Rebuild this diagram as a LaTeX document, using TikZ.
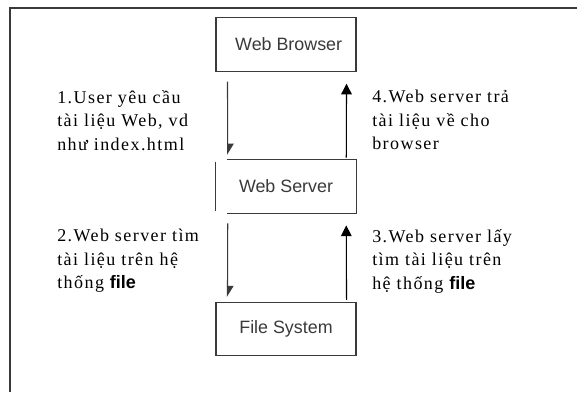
\documentclass[tikz,border=0pt]{standalone}
\usepackage{fontspec}
\setmainfont{Liberation Serif}
\newfontfamily\stepfont[LetterSpace=8]{Liberation Serif}
\newfontfamily\boxfont{Liberation Sans}
\usepackage{tikz}
\usetikzlibrary{arrows.meta}
\definecolor{edge}{HTML}{3A3A3A}
\tikzset{box/.style={minimum width=105pt,minimum height=40pt,inner sep=0pt,
    font=\boxfont\fontsize{13.4pt}{15pt}\selectfont,text=edge}}
\tikzset{txt/.style={anchor=north west,inner sep=0pt,align=left,
    font=\stepfont\fontsize{13.5pt}{17.6pt}\selectfont}}
\tikzset{dn/.style={draw=edge,line width=0.8pt,-{Triangle[left,width=9pt,length=7.5pt]}}}
\tikzset{up/.style={draw=black,line width=0.8pt,-{Triangle[width=8pt,length=8pt]}}}
\newcommand{\fb}{{\boxfont\bfseries file}}

\begin{document}
\begin{tikzpicture}[x=0.75pt,y=-0.75pt]
\useasboundingbox (0,0) rectangle (577,392);
% frame
\draw[edge,line width=1.4pt] (10,392) -- (10,8) -- (577,8);
% boxes
\node[box,draw=edge,line width=0.8pt] (wb) at (286,44.5) {\hspace{4pt}Web Browser};
\node[box] (ws) at (286,186.5) {Web Server};
\node[box,draw=edge,line width=0.8pt] (fs) at (286,329) {File System};
\draw[edge,line width=0.8pt] ([xshift=8.25pt]ws.north west) -- (ws.north east)
  -- (ws.south east) -- ([xshift=8.25pt]ws.south west);
\draw[edge,line width=0.8pt] ([yshift=-1.5pt]ws.north west) -- ([yshift=1.5pt]ws.south west);
% arrows
\draw[dn] ([xshift=9pt,yshift=-7.5pt]wb.south west) -- ([xshift=9pt,yshift=3.75pt]ws.north west);
\draw[up] ([xshift=-7.5pt,yshift=1.5pt]ws.north east) -- ([xshift=-7.5pt,yshift=-9pt]wb.south east);
\draw[dn] ([xshift=9pt,yshift=-7.5pt]ws.south west) -- ([xshift=9pt,yshift=3.75pt]fs.north west);
\draw[up] ([xshift=-7.5pt,yshift=1.5pt]fs.north east) -- ([xshift=-7.5pt,yshift=-9pt]ws.south east);
% labels
\node[txt] (t1) at (57,90) {1.User yêu cầu\\tài liệu Web, vd\\như index.html};
\node[txt] (t4) at (372,90) {4.Web server trả\\tài liệu về cho\\browser};
\node[txt] (t2) at (57,229) {2.Web server tìm\\tài liệu trên hệ\\thống \fb};
\node[txt] (t3) at (372,229) {3.Web server lấy\\tìm tài liệu trên\\hệ thống \fb};
\end{tikzpicture}
\end{document}
